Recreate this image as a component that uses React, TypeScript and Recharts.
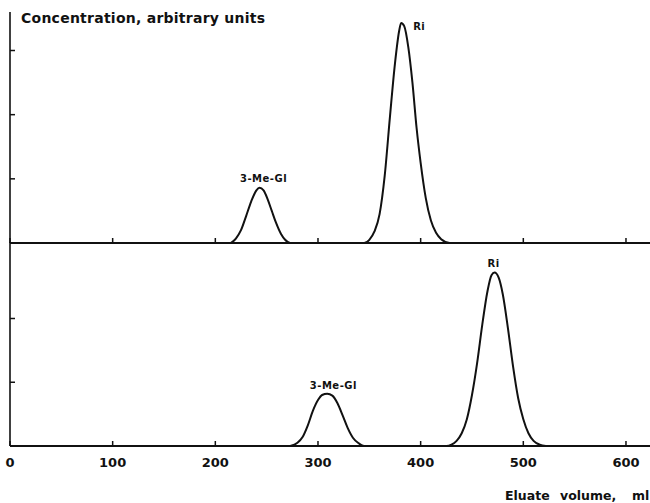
import React from 'react';
import { LineChart, Line, XAxis, YAxis, ReferenceDot } from 'recharts';

// Eluate volume (ml) ticks
const volumeTicks = [0, 100, 200, 300, 400, 500, 600];
const volumeMax = 623.4;

// Upper chromatogram
const topGlVolume = [215, 220, 225, 230, 235, 240, 243, 247, 251, 255, 259, 264, 268, 273];
const topGlConc = [0, 0.07, 0.2, 0.42, 0.65, 0.82, 0.86, 0.82, 0.68, 0.5, 0.32, 0.14, 0.05, 0];
const topRiVolume = [345, 350, 355, 360, 365, 370, 375, 379, 381, 384, 388, 392, 396, 400, 405, 410, 415, 420, 428];
const topRiConc = [0, 0.05, 0.18, 0.45, 1.05, 1.95, 2.8, 3.3, 3.43, 3.38, 3.05, 2.5, 1.8, 1.25, 0.7, 0.35, 0.16, 0.06, 0];

// Lower chromatogram
const botGlVolume = [273, 280, 285, 290, 295, 300, 304, 309, 314, 319, 324, 329, 334, 339, 345];
const botGlConc = [0, 0.05, 0.14, 0.32, 0.55, 0.72, 0.8, 0.82, 0.79, 0.67, 0.48, 0.28, 0.13, 0.05, 0];
const botRiVolume = [425, 430, 435, 440, 445, 450, 455, 460, 465, 469, 472, 476, 480, 485, 490, 495, 500, 505, 510, 516, 522];
const botRiConc = [0, 0.02, 0.08, 0.2, 0.42, 0.8, 1.3, 1.9, 2.42, 2.68, 2.72, 2.64, 2.38, 1.85, 1.25, 0.75, 0.42, 0.2, 0.08, 0.02, 0];

// Concentration axis ticks
const topConcTicks = [1, 2, 3];
const topConcMax = 3.6;
const botConcTicks = [1, 2];
const botConcMax = 3.2;

// Peak labels
const topLabelText = ['3-Me-Gl', 'Ri'];
const topLabelVolume = [247, 381];
const topLabelConc = [0.86, 3.38];
const topLabelPos = ['top', 'right'];
const botLabelText = ['3-Me-Gl', 'Ri'];
const botLabelVolume = [315, 471];
const botLabelConc = [0.8, 2.72];
const botLabelPos = ['top', 'top'];

const FONT = '"DejaVu Sans", Verdana, sans-serif';
const INK = '#111';

function buildRows(vols: number[][], concs: number[][]) {
  const rows: { v: number; c: number }[] = [];
  vols.forEach((arr, i) => arr.forEach((v, j) => rows.push({ v, c: concs[i][j] })));
  rows.sort((a, b) => a.v - b.v);
  return rows;
}

const topData = buildRows([topGlVolume, topRiVolume], [topGlConc, topRiConc]);
const botData = buildRows([botGlVolume, botRiVolume], [botGlConc, botRiConc]);

const NoTick = () => <g />;

function labelDots(texts: string[], vols: number[], concs: number[], pos: string[], xAxisId?: string) {
  return texts.map((t, i) => (
    <ReferenceDot
      key={t + i}
      x={vols[i]}
      y={concs[i]}
      r={0}
      xAxisId={xAxisId}
      ifOverflow="visible"
      stroke="none"
      fill="none"
      label={{
        value: t,
        position: pos[i] as any,
        offset: pos[i] === 'right' ? 12 : 6,
        fill: INK,
        fontSize: 10,
        fontWeight: 'bold',
        fontFamily: FONT,
        letterSpacing: 0.5,
      }}
    />
  ));
}

export default function App() {
  return (
    <div style={{ position: 'absolute', left: 0, top: 0, width: 650, height: 503, background: '#fff', overflow: 'hidden' }}>
      <div style={{ position: 'absolute', left: 0, top: 0 }}>
        <LineChart width={650} height={260} data={topData} margin={{ top: 12, right: 0, bottom: 17, left: 10 }}>
          <XAxis
            dataKey="v"
            type="number"
            domain={[0, volumeMax]}
            ticks={volumeTicks}
            height={1}
            mirror
            tick={NoTick}
            tickSize={5}
            axisLine={{ stroke: INK, strokeWidth: 2 }}
            tickLine={{ stroke: INK, strokeWidth: 1.5 }}
            allowDataOverflow
          />
          <YAxis
            type="number"
            domain={[0, topConcMax]}
            ticks={topConcTicks}
            width={1}
            mirror
            tick={NoTick}
            tickSize={5}
            axisLine={{ stroke: INK, strokeWidth: 1.6 }}
            tickLine={{ stroke: INK, strokeWidth: 1.5 }}
            allowDataOverflow
          />
          <Line dataKey="c" type="monotone" stroke={INK} strokeWidth={2} dot={false} isAnimationActive={false} />
          {labelDots(topLabelText, topLabelVolume, topLabelConc, topLabelPos)}
        </LineChart>
      </div>
      <div style={{ position: 'absolute', left: 0, top: 230 }}>
        <LineChart width={650} height={273} data={botData} margin={{ top: 12, right: 0, bottom: 27, left: 10 }}>
          <XAxis
            xAxisId="t"
            dataKey="v"
            type="number"
            domain={[0, volumeMax]}
            ticks={volumeTicks}
            height={1}
            mirror
            tick={NoTick}
            tickSize={5}
            axisLine={{ stroke: INK, strokeWidth: 2 }}
            tickLine={{ stroke: INK, strokeWidth: 1.5 }}
            allowDataOverflow
          />
          <XAxis
            xAxisId="l"
            dataKey="v"
            type="number"
            domain={[0, volumeMax]}
            ticks={volumeTicks}
            height={30}
            axisLine={false}
            tickLine={false}
            tickSize={0}
            tickMargin={12}
            tick={{ fill: INK, fontSize: 13, fontWeight: 'bold', fontFamily: FONT }}
            allowDataOverflow
          />
          <YAxis
            type="number"
            domain={[0, botConcMax]}
            ticks={botConcTicks}
            width={1}
            mirror
            tick={NoTick}
            tickSize={5}
            axisLine={{ stroke: INK, strokeWidth: 1.6 }}
            tickLine={{ stroke: INK, strokeWidth: 1.5 }}
            allowDataOverflow
          />
          <Line xAxisId="t" dataKey="c" type="monotone" stroke={INK} strokeWidth={2} dot={false} isAnimationActive={false} />
          {labelDots(botLabelText, botLabelVolume, botLabelConc, botLabelPos, 't')}
        </LineChart>
      </div>
      <svg width={650} height={503} style={{ position: 'absolute', left: 0, top: 0, pointerEvents: 'none' }}>
        <text x={21} y={22.5} fontFamily={FONT} fontWeight="bold" fontSize={14} letterSpacing={0.25} fill={INK}>
          Concentration, arbitrary units
        </text>
        <text x={505} y={500} fontFamily={FONT} fontWeight="bold" fontSize={12.5} fill={INK}>Eluate</text>
        <text x={560} y={500} fontFamily={FONT} fontWeight="bold" fontSize={12.5} fill={INK}>volume,</text>
        <text x={632} y={500} fontFamily={FONT} fontWeight="bold" fontSize={12.5} fill={INK}>ml</text>
      </svg>
    </div>
  );
}
